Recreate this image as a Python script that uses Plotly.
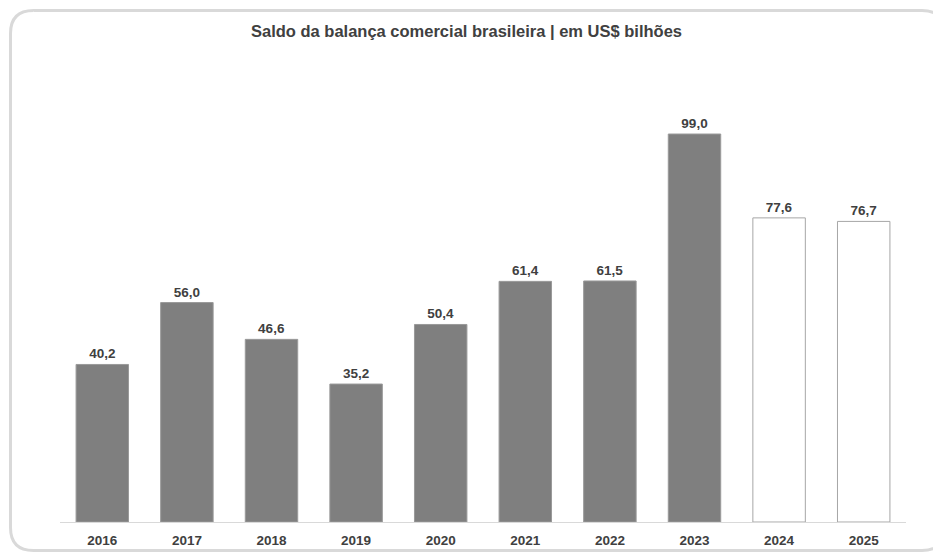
import plotly.graph_objects as go

# Saldo da balança comercial (US$ bilhões); 2024 e 2025 são projeções
anos = ["2016", "2017", "2018", "2019", "2020", "2021", "2022", "2023", "2024", "2025"]
saldo = [40.2, 56.0, 46.6, 35.2, 50.4, 61.4, 61.5, 99.0, 77.6, 76.7]
projecao = [False, False, False, False, False, False, False, False, True, True]

W, H = 933, 552
ML, MR, MT, MB = 60, 27, 60, 30
FONT = "Liberation Sans, Arial, sans-serif"

fill = ["#ffffff" if p else "#7f7f7f" for p in projecao]
edge = ["#a6a6a6" if p else "#9a9a9a" for p in projecao]

fig = go.Figure(
    go.Bar(
        x=anos,
        y=saldo,
        width=0.62,
        marker=dict(color=fill, line=dict(color=edge, width=1)),
        texttemplate="%{y:.1f}",
        textposition="outside",
        cliponaxis=False,
        textfont=dict(family=FONT, size=13.5, color="#404040", weight="bold"),
        hoverinfo="skip",
    )
)

# rounded frame around the chart, built in pixel space and mapped to paper coordinates
pw, ph = W - ML - MR, H - MT - MB


def px(x):
    return (x - ML) / pw


def py(y):
    return (H - MB - y) / ph


x0, y0, x1, y1, r = 10.5, 10.5, 945, 550.5, 23
pts = [
    f"M {px(x0 + r)},{py(y0)}",
    f"L {px(x1 - r)},{py(y0)}",
    f"Q {px(x1)},{py(y0)} {px(x1)},{py(y0 + r)}",
    f"L {px(x1)},{py(y1 - r)}",
    f"Q {px(x1)},{py(y1)} {px(x1 - r)},{py(y1)}",
    f"L {px(x0 + r)},{py(y1)}",
    f"Q {px(x0)},{py(y1)} {px(x0)},{py(y1 - r)}",
    f"L {px(x0)},{py(y0 + r)}",
    f"Q {px(x0)},{py(y0)} {px(x0 + r)},{py(y0)}",
]
fig.add_shape(type="path", path=" ".join(pts), xref="paper", yref="paper",
              line=dict(color="#d9d9d9", width=3), layer="below")

fig.update_layout(
    width=W,
    height=H,
    margin=dict(l=ML, r=MR, t=MT, b=MB, autoexpand=False),
    paper_bgcolor="#ffffff",
    plot_bgcolor="#ffffff",
    separators=",.",
    showlegend=False,
    font=dict(family=FONT, color="#404040"),
    title=dict(
        text="Saldo da balança comercial brasileira | em US$ bilhões",
        x=0.5,
        xanchor="center",
        y=1 - 31 / H,
        yanchor="middle",
        font=dict(size=16.5, color="#404040", weight="bold"),
    ),
    xaxis=dict(
        showgrid=False,
        showline=True,
        linecolor="#d9d9d9",
        linewidth=1,
        ticks="",
        automargin=False,
        ticklabelstandoff=6,
        tickfont=dict(size=13.5, color="#404040", weight="bold"),
        fixedrange=True,
    ),
    yaxis=dict(
        range=[0, ph / 3.919],
        visible=False,
        showgrid=False,
        zeroline=False,
        fixedrange=True,
    ),
)

fig.write_html("out.html")
